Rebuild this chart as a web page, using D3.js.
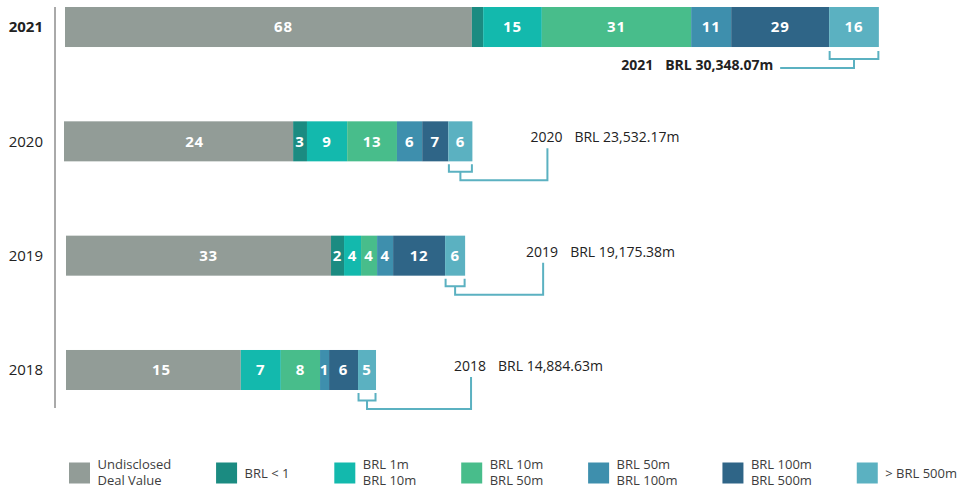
<!DOCTYPE html>
<html lang="en">
<head>
<meta charset="utf-8">
<script src="https://d3js.org/d3.v7.min.js"></script>
<style>
  body { margin: 0; background: #fff; }
  text { font-family: "Open Sans", sans-serif; }
</style>
</head>
<body>
<div id="chart"></div>
<script>
  // ---- data ----
  var years = ["2021", "2020", "2019", "2018"]
  var categories = [
    ["Undisclosed", "Deal Value"],
    ["BRL < 1"],
    ["BRL 1m", "BRL 10m"],
    ["BRL 10m", "BRL 50m"],
    ["BRL 50m", "BRL 100m"],
    ["BRL 100m", "BRL 500m"],
    ["> BRL 500m"]
  ]
  // number of deals printed in each segment (null = no label)
  var counts2021 = [68, null, 15, 31, 11, 29, 16]
  var counts2020 = [24, 3, 9, 13, 6, 7, 6]
  var counts2019 = [33, 2, 4, 4, 4, 12, 6]
  var counts2018 = [15, null, 7, 8, 1, 6, 5]
  // drawn segment length, as % of the full 2021 bar
  var share2021 = [50.0, 1.39, 7.21, 18.35, 4.92, 12.04, 6.11]
  var share2020 = [28.16, 1.70, 4.94, 6.12, 3.10, 3.22, 2.95]
  var share2019 = [32.57, 1.60, 2.09, 1.97, 1.97, 6.39, 2.46]
  var share2018 = [21.48, 0, 4.92, 4.82, 1.11, 3.56, 2.21]
  var totals = ["BRL 30,348.07m", "BRL 23,532.17m", "BRL 19,175.38m", "BRL 14,884.63m"]

  // ---- styling / layout ----
  var colors = ["#929c97", "#1b8b81", "#13b9ad", "#48bd8b", "#3e8fad", "#2f6587", "#5bb1c1"]
  var lineColor = "#5bb1c1"
  var barNudge = {"2021": 0, "2020": -1, "2019": 1, "2018": 1}      // bars are not quite aligned
  var firstLabelNudge = {"2021": 15, "2020": 16, "2019": 10, "2018": 8} // undisclosed label sits right of centre
  var labelGap = {"2020": 58, "2019": 61, "2018": 78}                // bar end -> total label

  var rows = years.map(function(y, i) {
    return {
      year: y,
      counts: [counts2021, counts2020, counts2019, counts2018][i],
      share: [share2021, share2020, share2019, share2018][i],
      total: totals[i]
    }
  })

  var W = 961, H = 487
  var svg = d3.select("#chart").append("svg")
      .attr("width", W).attr("height", H)

  var x = d3.scaleLinear().domain([0, 100]).range([65, 878.7])
  var y = d3.scaleBand().domain(years).range([7, 390]).paddingInner(0.65).paddingOuter(0)
  var bh = y.bandwidth()

  function px(year, v) { return x(v) + barNudge[year] }

  // flat list of segments
  var segs = []
  rows.forEach(function(r) {
    var start = 0
    r.share.forEach(function(v, j) {
      segs.push({year: r.year, cat: j, start: start, len: v, count: r.counts[j]})
      start += v
    })
    r.end = start
  })

  // axis line + year labels
  svg.append("line")
      .attr("x1", 55).attr("x2", 55)
      .attr("y1", 7).attr("y2", 408)
      .attr("stroke", "#555").attr("stroke-width", 1)

  svg.selectAll(".year")
      .data(years)
      .enter().append("text")
      .attr("class", "year")
      .attr("x", 43)
      .attr("y", function(d) { return y(d) + bh / 2 })
      .attr("dy", "0.35em")
      .attr("text-anchor", "end")
      .attr("font-size", 15)
      .attr("font-weight", function(d) { return d == "2021" ? 700 : 400 })
      .attr("fill", "#222")
      .text(function(d) { return d })

  // bars
  svg.selectAll("rect.seg")
      .data(segs.filter(function(d) { return d.len > 0 }))
      .enter().append("rect")
      .attr("class", "seg")
      .attr("x", function(d) { return px(d.year, d.start) })
      .attr("width", function(d) { return x(d.start + d.len) - x(d.start) })
      .attr("y", function(d) { return y(d.year) })
      .attr("height", bh)
      .attr("fill", function(d) { return colors[d.cat] })

  svg.selectAll("text.val")
      .data(segs.filter(function(d) { return d.count != null }))
      .enter().append("text")
      .attr("class", "val")
      .attr("x", function(d) {
        return px(d.year, d.start + d.len / 2) + (d.cat == 0 ? firstLabelNudge[d.year] : 0)
      })
      .attr("y", function(d) { return y(d.year) + bh / 2 })
      .attr("dy", "0.35em")
      .attr("text-anchor", "middle")
      .attr("font-size", 15)
      .attr("font-weight", 700)
      .attr("letter-spacing", 0.8)
      .attr("fill", "#fff")
      .text(function(d) { return d.count })

  // total labels with bracket connectors
  rows.forEach(function(r) {
    var last = r.share.length - 1
    var s = px(r.year, r.end - r.share[last]), e = px(r.year, r.end)
    var mid = (s + e) / 2
    var yb = y(r.year) + bh
    var yc = y(r.year) + bh / 2
    var p = d3.path()

    var label = svg.append("text")
        .attr("font-size", 14)
        .attr("fill", "#222")
        .attr("font-weight", r.year == "2021" ? 700 : 400)
    var yt = label.append("tspan").text(r.year)
    label.append("tspan").attr("dx", 12).text(r.total)

    if (r.year == "2021") {
      p.moveTo(s + 0.5, yb + 4); p.lineTo(s + 0.5, yb + 12)
      p.lineTo(e - 0.5, yb + 12); p.lineTo(e - 0.5, yb + 4)
      p.moveTo(mid, yb + 12); p.lineTo(mid, yb + 21); p.lineTo(e - 98.7, yb + 21)
      label.attr("x", e - 105.7).attr("y", yb + 18).attr("dy", "0.35em")
          .attr("text-anchor", "end")
    } else {
      var lx = e + labelGap[r.year]
      var ly = yc - 4
      label.attr("x", lx).attr("y", ly).attr("dy", "0.35em")
      var yw = yt.node().getComputedTextLength()
      var vx = lx + yw / 2 + 1
      p.moveTo(s + 0.5, yb + 3); p.lineTo(s + 0.5, yb + 10.5)
      p.lineTo(e - 0.5, yb + 10.5); p.lineTo(e - 0.5, yb + 3)
      p.moveTo(mid, yb + 10.5); p.lineTo(mid, yb + 19); p.lineTo(vx, yb + 19); p.lineTo(vx, ly + 11)
    }
    svg.append("path")
        .attr("d", p.toString())
        .attr("fill", "none")
        .attr("stroke", lineColor)
        .attr("stroke-width", 2)
  })

  // legend, spread between the left and right edges
  var legend = svg.append("g").attr("class", "legend")
  var items = legend.selectAll("g")
      .data(categories)
      .enter().append("g")

  items.append("rect")
      .attr("width", 21).attr("height", 21)
      .attr("y", 462.5)
      .attr("fill", function(d, i) { return colors[i] })

  items.each(function(d) {
    var g = d3.select(this)
    d.forEach(function(line, k) {
      var cy = d.length == 1 ? 473 : 464 + k * 16
      g.append("text")
          .attr("x", 28.5)
          .attr("y", cy)
          .attr("dy", "0.35em")
          .attr("font-size", 13)
          .attr("fill", "#3d3d3d")
          .text(line)
    })
  })

  var widths = []
  items.each(function() {
    var w = 0
    d3.select(this).selectAll("text").each(function() {
      w = Math.max(w, this.getComputedTextLength())
    })
    widths.push(28.5 + w)
  })
  var left = 69, right = 957
  var gap = (right - left - d3.sum(widths)) / (widths.length - 1)
  var pos = left
  items.attr("transform", function(d, i) {
    var t = "translate(" + pos + ",0)"
    pos += widths[i] + gap
    return t
  })
</script>
</body>
</html>
